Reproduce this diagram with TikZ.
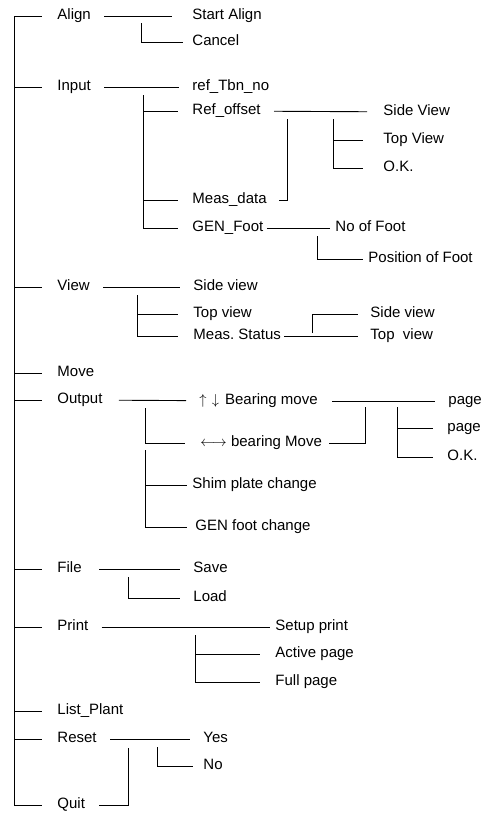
\documentclass[tikz,border=0pt]{standalone}
\usepackage{fontspec}
\setmainfont{Liberation Sans}
\begin{document}
\begin{tikzpicture}[x=1pt,y=-1pt,line width=0.9pt,
  every node/.style={font=\fontsize{15}{18}\selectfont,anchor=west,inner sep=0pt,text height=0.72em,text depth=0pt},
  tick/.style={shorten >=15pt},
  link/.style={shorten <=13pt,shorten >=13pt}]
\useasboundingbox (0,0) rectangle (484,815);
% main menu
\node (align) at (57,16) {Align};
\node (input) at (57,87) {Input};
\node (view) at (57,287) {View};
\node (move) at (57,373) {Move};
\node (output) at (57,400) {Output};
\node (file) at (57,569) {File};
\node (print) at (57,627) {Print};
\node (listplant) at (57,711) {List\_Plant};
\node (reset) at (57,739) {Reset};
\node (quit) at (57,805) {Quit};
% sub menus
\node (startalign) at (192,16) {Start Align};
\node (cancel) at (192,42) {Cancel};
\node (reftbn) at (192,87) {ref\_Tbn\_no};
\node (refoffset) at (192,111) {Ref\_offset};
\node (measdata) at (192,200) {Meas\_data};
\node (genfoot) at (192,228) {GEN\_Foot};
\node (refside) at (383,112) {Side View};
\node (reftop) at (383,140) {Top View};
\node (refok) at (383,168) {O.K.};
\node (nofoot) at (335,228) {No of Foot};
\node (posfoot) at (368,259) {Position of Foot};
\node (viewside) at (193,287) {Side view};
\node (viewtop) at (193,314) {Top view};
\node (measstatus) at (193,336) {Meas.\ Status};
\node (statside) at (370,314) {Side view};
\node (stattop) at (370,336) {Top\ \ view};
\node (bearud) at (199,401) {$\uparrow$\hspace{0.35em}$\downarrow$\hspace{0.4em}Bearing move};
\node (bearlr) at (200,443) {$\longleftrightarrow$ bearing Move};
\node (shim) at (192,485) {Shim plate change};
\node (genchange) at (195,527) {GEN foot change};
\node (pageA) at (448,401) {page};
\node (pageB) at (447,428) {page};
\node (bearok) at (447,457) {O.K.};
\node (save) at (193,569) {Save};
\node (load) at (193,598) {Load};
\node (setup) at (275,627) {Setup print};
\node (active) at (275,654) {Active page};
\node (full) at (275,682) {Full page};
\node (yes) at (203,739) {Yes};
\node (no) at (203,766) {No};
% branch points
\coordinate (trunk) at (14,0);
\coordinate (alignfork) at (141,23);
\coordinate (inputfork) at (143,95);
\coordinate (refoffsetfork) at (333,119);
\coordinate (measfork) at (287,119);
\coordinate (genfork) at (317,236);
\coordinate (viewfork) at (137,295);
\coordinate (statfork) at (312,333);
\coordinate (outfork) at (145,408);
\coordinate (outforkb) at (145,450);
\coordinate (bearfork) at (365,407);
\coordinate (pagefork) at (397,407);
\coordinate (filefork) at (128,577);
\coordinate (printfork) at (195,635);
\coordinate (resetfork) at (157,747);
\coordinate (quitfork) at (128,748);
% trunk
\draw (trunk |- align) -- (trunk |- quit);
\foreach \n in {align,input,view,move,output,file,print,listplant,reset,quit}
  \draw[tick] (trunk |- \n) -- (\n);
% first entries
\draw[link,shorten >=20pt] (align) -- (startalign);
\draw[link] (input) -- (reftbn);
\draw[link] (view) -- (viewside);
\draw[link,shorten <=16pt] (output) -- (bearud);
\draw[link,shorten <=17pt] (file) -- (save);
\draw[link,shorten >=5pt] (print) -- (setup);
\draw[link] (reset) -- (yes);
\draw[shorten <=14pt] (quit) -| (quitfork);
% Align / Input
\draw[shorten >=9pt] (alignfork) |- (cancel);
\draw[shorten >=14pt] (inputfork) |- (genfoot);
\draw[shorten >=14pt] (inputfork |- refoffset) -- (refoffset);
\draw[shorten >=14pt] (inputfork |- measdata) -- (measdata);
\draw[link,shorten >=16pt] (refoffset) -- (refside);
\draw[shorten >=20pt] (refoffsetfork) |- (refok);
\draw[shorten >=20pt] (refoffsetfork |- reftop) -- (reftop);
\draw[shorten <=12pt] (measdata) -| (measfork);
\draw[shorten <=3pt,shorten >=5pt] (genfoot) -- (nofoot);
\draw[shorten >=5pt] (genfork) |- (posfoot);
% View
\draw[shorten >=15pt] (viewfork) |- (measstatus);
\draw[shorten >=15pt] (viewfork |- viewtop) -- (viewtop);
\draw[shorten <=3pt,shorten >=12pt] (measstatus) -- (stattop);
\draw[shorten >=12pt] (statfork) |- (statside);
% Output
\draw[shorten >=15pt] (outfork) |- (bearlr);
\draw[shorten >=8pt] (outforkb) |- (genchange);
\draw[shorten >=5pt] (outforkb |- shim) -- (shim);
\draw[shorten <=14pt,shorten >=13pt] (bearud) -- (pageA);
\draw[shorten <=7pt] (bearlr) -| (bearfork);
\draw[shorten >=14pt] (pagefork) |- (bearok);
\draw[shorten >=14pt] (pagefork |- pageB) -- (pageB);
% File / Print / Reset
\draw[shorten >=13pt] (filefork) |- (load);
\draw[shorten >=15pt] (printfork) |- (full);
\draw[shorten >=15pt] (printfork |- active) -- (active);
\draw[shorten >=10pt] (resetfork) |- (no);
\end{tikzpicture}
\end{document}
